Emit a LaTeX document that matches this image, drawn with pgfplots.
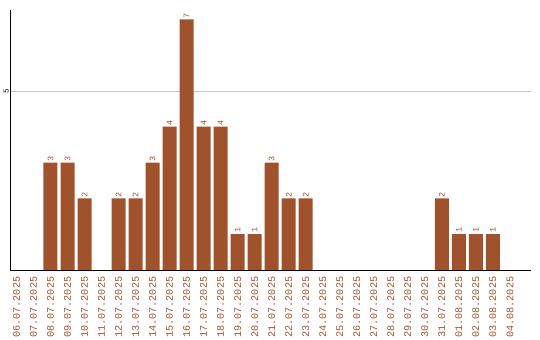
\documentclass[border=0pt]{standalone}
\usepackage{pgfplots}
\pgfplotsset{compat=1.18}
\usepackage{fontspec}
\setmainfont{Liberation Mono}
\definecolor{barc}{HTML}{A0522D}
\begin{document}
\begin{tikzpicture}
\path[use as bounding box] (-10bp,-70bp) rectangle (530bp,270bp);
\begin{axis}[
  at={(0,0)}, anchor=south west,
  scale only axis, width=521bp, height=260bp,
  xmin=-0.38, xmax=30.24, ymin=0, ymax=7.26,
  axis x line*=bottom, axis y line*=left,
  axis line style={black, line width=1pt},
  /pgf/number format/assume math mode=true,
  xtick={0,...,29},
  xticklabels={06.07.2025,07.07.2025,08.07.2025,09.07.2025,10.07.2025,11.07.2025,12.07.2025,13.07.2025,14.07.2025,15.07.2025,16.07.2025,17.07.2025,18.07.2025,19.07.2025,20.07.2025,21.07.2025,22.07.2025,23.07.2025,24.07.2025,25.07.2025,26.07.2025,27.07.2025,28.07.2025,29.07.2025,30.07.2025,31.07.2025,01.08.2025,02.08.2025,03.08.2025,04.08.2025},
  xticklabel style={rotate=90, anchor=east, font=\fontsize{10.2}{11}\selectfont, text=barc, inner sep=0pt, xshift=-6.5bp},
  ytick={5},
  yticklabel style={rotate=90, anchor=south, font=\fontsize{7.5}{8}\selectfont, inner sep=1pt},
  ymajorgrids, grid style={gray!45, line width=0.6pt},
  major tick length=0pt,
  ybar, bar width=14bp,
  nodes near coords,
  every node near coord/.append style={rotate=90, anchor=west, font=\fontsize{8.5}{9}\selectfont, text=barc, inner sep=1pt},
]
\addplot[fill=barc, draw=none] coordinates {
(2,3) (3,3) (4,2) (6,2) (7,2) (8,3) (9,4) (10,7) (11,4) (12,4) (13,1) (14,1) (15,3) (16,2) (17,2) (25,2) (26,1) (27,1) (28,1)
};
\end{axis}
\end{tikzpicture}
\end{document}
